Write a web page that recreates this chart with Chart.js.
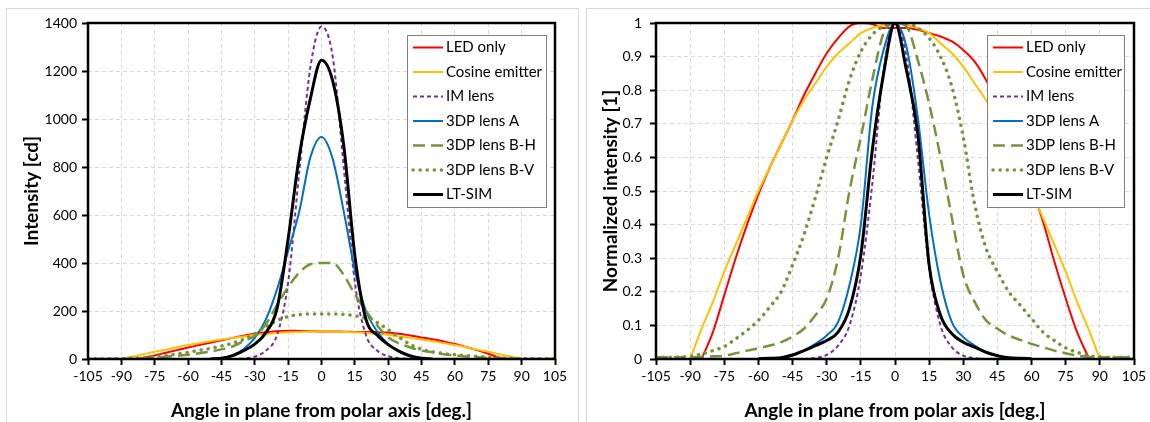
<!DOCTYPE html>
<html>
<head>
<meta charset="utf-8">
<script src="https://cdn.jsdelivr.net/npm/chart.js@4.4.0/dist/chart.umd.min.js"></script>
<style>
  html, body { margin: 0; padding: 0; background: #fff; overflow: hidden; }
  body { width: 1150px; height: 422px; position: relative; }
  .panel { position: absolute; top: 8px; height: 430px; border: 1px solid #d9d9d9; box-sizing: border-box; }
  #panelL { left: 6px; width: 573px; }
  #panelR { left: 586px; width: 580px; }
  canvas { position: absolute; top: 0; }
  #chartL { left: 0; }
  #chartR { left: 575px; }
</style>
</head>
<body>
<div class="panel" id="panelL"></div>
<div class="panel" id="panelR"></div>
<canvas id="chartL" width="575" height="422"></canvas>
<canvas id="chartR" width="575" height="422"></canvas>
<script>
// angle in plane from polar axis [deg.]
const angles = [-105, -100, -95, -90, -85, -80, -75, -70, -65, -60, -55, -50, -45, -40, -35, -30, -25, -20, -15, -10, -5,
  0, 5, 10, 15, 20, 25, 30, 35, 40, 45, 50, 55, 60, 65, 70, 75, 80, 85, 90, 95, 100, 105];

const seriesNames = ['LED only', 'Cosine emitter', 'IM lens', '3DP lens A', '3DP lens B-H', '3DP lens B-V', 'LT-SIM'];

// left chart - intensity [cd]
const ledCd = [null, null, null, null, 0, 5, 15, 26, 37, 48, 58, 68, 78, 88, 97, 105, 111, 116, 118, 117, 116,
  115, 115, 114, 113, 112, 111, 110, 105, 98, 90, 82, 73, 63, 50, 37, 22, 6, 0, null, null, null, null];
const cosCd = [null, null, null, 0, 10, 20, 30, 39, 49, 58, 66, 74, 81, 88, 94, 100, 104, 108, 111, 113, 115,
  115, 115, 113, 111, 108, 104, 100, 94, 88, 81, 74, 66, 58, 49, 39, 30, 20, 10, 0, null, null, null];
const imCd = [null, null, null, null, null, null, null, null, null, null, null, null, null, 0, 2, 10, 35, 100, 320, 780, 1215,
  1385, 1262, 800, 320, 100, 35, 12, 3, 0, null, null, null, null, null, null, null, null, null, null, null, null, null];
const lensACd = [null, null, null, null, null, null, null, null, null, null, null, 0, 3, 15, 42, 88, 165, 290, 450, 615, 840,
  925, 835, 615, 370, 200, 115, 62, 30, 10, 2, 0, null, null, null, null, null, null, null, null, null, null, null];
const lensBHCd = [0, 0, 0, 0, 1, 3, 6, 9, 13, 18, 24, 31, 40, 52, 75, 97, 145, 225, 300, 360, 395,
  400, 400, 350, 270, 200, 140, 90, 65, 48, 35, 28, 20, 15, 10, 7, 4, 2, 1, 0, 0, 0, 0];
const lensBVCd = [1, 1, 1, 2, 3, 6, 10, 15, 21, 28, 36, 44, 54, 66, 82, 105, 135, 160, 177, 185, 188,
  188, 188, 186, 180, 170, 152, 122, 90, 60, 40, 30, 23, 18, 14, 11, 8, 5, 3, 2, 1, 1, 1];
const ltSimCd = [null, null, null, null, null, null, null, null, null, null, null, 0, 3, 14, 35, 62, 110, 210, 500, 845, 1085,
  1245, 1160, 890, 430, 165, 100, 60, 32, 13, 3, 0, null, null, null, null, null, null, null, null, null, null, null];

// right chart - normalized intensity [1]
const ledN = [null, null, null, null, 0, 0.08, 0.19, 0.3, 0.4, 0.49, 0.57, 0.64, 0.71, 0.785, 0.85, 0.91, 0.955, 0.99, 1.0, 0.997, 0.985,
  0.985, 0.985, 0.98, 0.97, 0.96, 0.945, 0.92, 0.885, 0.83, 0.76, 0.68, 0.6, 0.51, 0.41, 0.29, 0.18, 0.08, 0.005, null, null, null, null];
const cosN = [null, null, null, 0, 0.09, 0.17, 0.26, 0.34, 0.42, 0.5, 0.57, 0.64, 0.71, 0.77, 0.82, 0.87, 0.91, 0.94, 0.97, 0.985, 0.995,
  1.0, 0.995, 0.985, 0.97, 0.94, 0.91, 0.87, 0.82, 0.77, 0.71, 0.64, 0.57, 0.5, 0.42, 0.34, 0.26, 0.17, 0.09, 0, null, null, null];
const imN = [null, null, null, null, null, null, null, null, null, null, null, null, null, 0, 0.003, 0.012, 0.04, 0.1, 0.25, 0.52, 0.86,
  1.0, 0.9, 0.6, 0.27, 0.1, 0.035, 0.01, 0.003, 0, null, null, null, null, null, null, null, null, null, null, null, null, null];
const lensAN = [null, null, null, null, null, null, null, null, null, null, 0, 0.003, 0.01, 0.025, 0.045, 0.07, 0.11, 0.22, 0.4, 0.75, 0.92,
  1.0, 0.93, 0.72, 0.43, 0.23, 0.11, 0.065, 0.04, 0.02, 0.008, 0.002, 0, null, null, null, null, null, null, null, null, null, null];
const lensBHN = [0.005, 0.005, 0.005, 0.005, 0.006, 0.008, 0.01, 0.017, 0.025, 0.032, 0.04, 0.05, 0.067, 0.09, 0.13, 0.18, 0.3, 0.5, 0.66, 0.83, 0.97,
  1.0, 0.99, 0.89, 0.76, 0.6, 0.42, 0.25, 0.17, 0.115, 0.09, 0.07, 0.057, 0.045, 0.035, 0.025, 0.017, 0.01, 0.006, 0.005, 0.005, 0.005, 0.005];
const lensBVN = [0.005, 0.005, 0.006, 0.008, 0.015, 0.025, 0.037, 0.06, 0.085, 0.115, 0.155, 0.2, 0.28, 0.37, 0.48, 0.6, 0.71, 0.83, 0.915, 0.965, 0.99,
  1.0, 1.0, 0.985, 0.955, 0.9, 0.81, 0.66, 0.46, 0.33, 0.26, 0.2, 0.16, 0.12, 0.08, 0.055, 0.033, 0.02, 0.01, 0.007, 0.005, 0.005, 0.005];
const ltSimN = [null, null, null, null, null, null, null, null, null, 0.001, 0.002, 0.004, 0.012, 0.025, 0.04, 0.055, 0.08, 0.15, 0.31, 0.62, 0.85,
  1.0, 0.86, 0.67, 0.28, 0.13, 0.075, 0.05, 0.035, 0.02, 0.01, 0.004, 0.002, 0.001, null, null, null, null, null, null, null, null, null];

const xTicks = [-105, 105, 15];     // min, max, step
const yTicksL = [0, 1400, 200];
const yTicksR = [0, 1, 0.1];

// line looks, same order as seriesNames
const lineColors = ['#ff0000', '#ffc000', '#7030a0', '#0070c0', '#77933c', '#77933c', '#000000'];
const lineWidths = [2, 2, 2, 2, 2.5, 3.5, 3];
const lineDashes = [[], [], [4, 3], [], [12, 6], [0.1, 7], []];
const lineCaps = ['butt', 'butt', 'butt', 'butt', 'butt', 'round', 'butt'];

// black box round the plot area
const framePlugin = {
    id: 'frame',
    afterDatasetsDraw(chart) {
        const { ctx, chartArea: a } = chart;
        ctx.save();
        ctx.strokeStyle = '#000';
        ctx.lineWidth = 2.5;
        ctx.strokeRect(a.left, a.top, a.right - a.left, a.bottom - a.top);
        ctx.restore();
    }
};

// legend in a white box, drawn over the lines
const boxLegend = {
    id: 'boxLegend',
    afterDraw(chart, args, opts) {
        const ctx = chart.ctx;
        const { x, y, w, h } = opts;
        ctx.save();
        ctx.fillStyle = '#fff';
        ctx.fillRect(x, y, w, h);
        ctx.strokeStyle = '#808080';
        ctx.lineWidth = 1;
        ctx.strokeRect(x + 0.5, y + 0.5, w, h);
        chart.data.datasets.forEach((ds, i) => {
            const ly = y + 12.5 + i * 24.5;
            ctx.beginPath();
            ctx.strokeStyle = ds.borderColor;
            ctx.lineWidth = ds.borderWidth;
            ctx.setLineDash(ds.borderDash);
            ctx.lineCap = ds.borderCapStyle;
            ctx.moveTo(x + 6, ly);
            ctx.lineTo(x + 36, ly);
            ctx.stroke();
            ctx.setLineDash([]);
            ctx.fillStyle = '#000';
            ctx.font = '15px Lato';
            ctx.textBaseline = 'middle';
            ctx.fillText(ds.label, x + 39, ly);
        });
        ctx.restore();
    }
};

const tickFont = { family: 'Lato', size: 14 };
const titleFont = { family: 'Lato', size: 19, weight: 'bold' };

const buildChart = (canvasId, values, yRange, yTitle, setup) => {
    const datasets = seriesNames.map((name, i) => ({
        label: name,
        data: angles.map((a, k) => ({ x: a, y: values[i][k] })).filter(p => p.y !== null),
        borderColor: lineColors[i],
        borderWidth: lineWidths[i],
        borderDash: lineDashes[i],
        borderCapStyle: lineCaps[i],
        pointRadius: 0,
        cubicInterpolationMode: 'monotone',
        fill: false,
        order: seriesNames.length - i // LT-SIM on top
    }));

    return new Chart(document.getElementById(canvasId), {
        type: 'line',
        data: { datasets },
        options: {
            responsive: false,
            animation: false,
            layout: { padding: { top: 23, right: setup.padRight, left: 0, bottom: 0 } },
            plugins: {
                legend: { display: false },
                tooltip: { enabled: false },
                boxLegend: setup.legend
            },
            scales: {
                x: {
                    type: 'linear',
                    min: xTicks[0], max: xTicks[1],
                    afterFit: s => { s.height = 63; },
                    ticks: {
                        stepSize: xTicks[2], autoSkip: false, maxRotation: 0,
                        color: '#000', font: tickFont, padding: 3,
                        callback: v => String(v)
                    },
                    grid: { color: '#d9d9d9', lineWidth: 1, tickLength: 6, tickColor: '#000', tickWidth: 2 },
                    border: { display: false, dash: [4, 3] },
                    title: { display: true, text: 'Angle in plane from polar axis [deg.]', color: '#000', font: titleFont, padding: { top: 0, bottom: 0 } }
                },
                y: {
                    min: yRange[0], max: yRange[1],
                    afterFit: s => { s.width = setup.yWidth; },
                    ticks: {
                        stepSize: yRange[2], color: '#000', font: tickFont, padding: setup.tickPad,
                        callback: setup.yLabel
                    },
                    grid: { color: '#d9d9d9', lineWidth: 1, tickLength: 6, tickColor: '#000', tickWidth: 2 },
                    border: { display: false, dash: [4, 3] },
                    title: { display: true, text: yTitle, color: '#000', font: titleFont, padding: { top: setup.titlePad, bottom: 0 } }
                }
            }
        },
        plugins: [framePlugin, boxLegend]
    });
};

buildChart('chartL', [ledCd, cosCd, imCd, lensACd, lensBHCd, lensBVCd, ltSimCd], yTicksL, 'Intensity [cd]', {
    padRight: 20, yWidth: 88, tickPad: 5, titlePad: 20,
    yLabel: v => String(v),
    legend: { x: 407, y: 35, w: 139, h: 172 }
});

buildChart('chartR', [ledN, cosN, imN, lensAN, lensBHN, lensBVN, ltSimN], yTicksR, 'Normalized intensity [1]', {
    padRight: 16, yWidth: 81, tickPad: 8, titlePad: 24,
    yLabel: v => (v === 0 || v === 1) ? String(v) : v.toFixed(1),
    legend: { x: 412, y: 35, w: 137, h: 172 }
});
</script>
</body>
</html>
